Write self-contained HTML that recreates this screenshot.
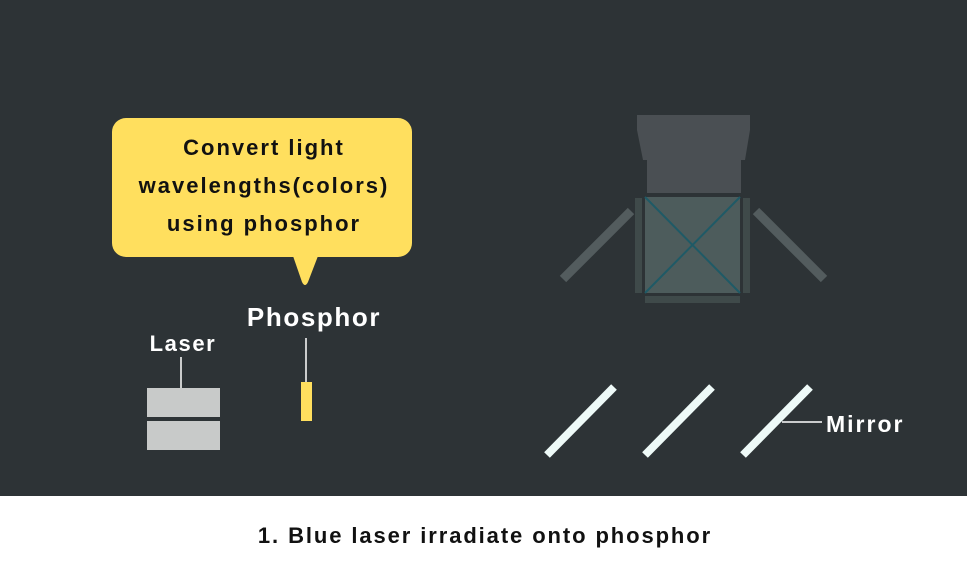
<!DOCTYPE html>
<html><head><meta charset="utf-8"><style>
html,body{margin:0;padding:0;width:967px;height:573px;overflow:hidden;background:#fff}
</style></head><body>
<svg width="967" height="573" xmlns="http://www.w3.org/2000/svg" style="display:block;font-family:'Liberation Sans',sans-serif;font-weight:bold">
<rect x="0" y="0" width="967" height="496" fill="#2d3336"/>
<rect x="112" y="118" width="300" height="139" rx="14" fill="#ffdf5e"/>
<path d="M293 256 L318 256 L308 282 Q305 288 302 282 Z" fill="#ffdf5e"/>
<g font-size="22" fill="#111" text-anchor="middle" letter-spacing="2">
<text x="264" y="155">Convert light</text>
<text x="264" y="193">wavelengths(colors)</text>
<text x="264" y="231">using phosphor</text>
</g>
<text x="314" y="326" font-size="26" fill="#fff" text-anchor="middle" letter-spacing="1.6">Phosphor</text>
<line x1="306" y1="338" x2="306" y2="383" stroke="#fff" stroke-width="1.5"/>
<rect x="301" y="382" width="11" height="39" fill="#ffdf5e"/>
<text x="183" y="351" font-size="22" fill="#fff" text-anchor="middle" letter-spacing="1.6">Laser</text>
<line x1="181" y1="357" x2="181" y2="388" stroke="#fff" stroke-width="1.5"/>
<rect x="147" y="388" width="73" height="29" fill="#c8cac9"/>
<rect x="147" y="421" width="73" height="29" fill="#c8cac9"/>
<path d="M637 115 L750 115 L750 130 L745 160 L741 160 L741 193 L647 193 L647 160 L643 160 L637 130 Z" fill="#4a4f53"/>
<rect x="645" y="197" width="95" height="96" fill="#4d5c5c"/>
<line x1="645" y1="197" x2="740" y2="293" stroke="#1f5a66" stroke-width="2"/>
<line x1="740" y1="197" x2="645" y2="293" stroke="#1f5a66" stroke-width="2"/>
<rect x="635" y="198" width="7" height="95" fill="#3f4a4a"/>
<rect x="743" y="198" width="7" height="95" fill="#3f4a4a"/>
<rect x="645" y="296" width="95" height="7" fill="#3f4a4a"/>
<line x1="631" y1="211" x2="563" y2="279" stroke="#535c5e" stroke-width="9"/>
<line x1="756" y1="211" x2="824" y2="279" stroke="#535c5e" stroke-width="9"/>
<g stroke="#eefaf8" stroke-width="8">
<line x1="547" y1="455" x2="614" y2="387"/>
<line x1="645" y1="455" x2="712" y2="387"/>
<line x1="743" y1="455" x2="810" y2="387"/>
</g>
<line x1="782" y1="422" x2="822" y2="422" stroke="#fff" stroke-width="1.5"/>
<text x="826" y="432" font-size="23" fill="#fff" letter-spacing="2">Mirror</text>
<text x="485" y="543" font-size="22" fill="#111" text-anchor="middle" letter-spacing="1.9">1. Blue laser irradiate onto phosphor</text>
</svg>
</body></html>
